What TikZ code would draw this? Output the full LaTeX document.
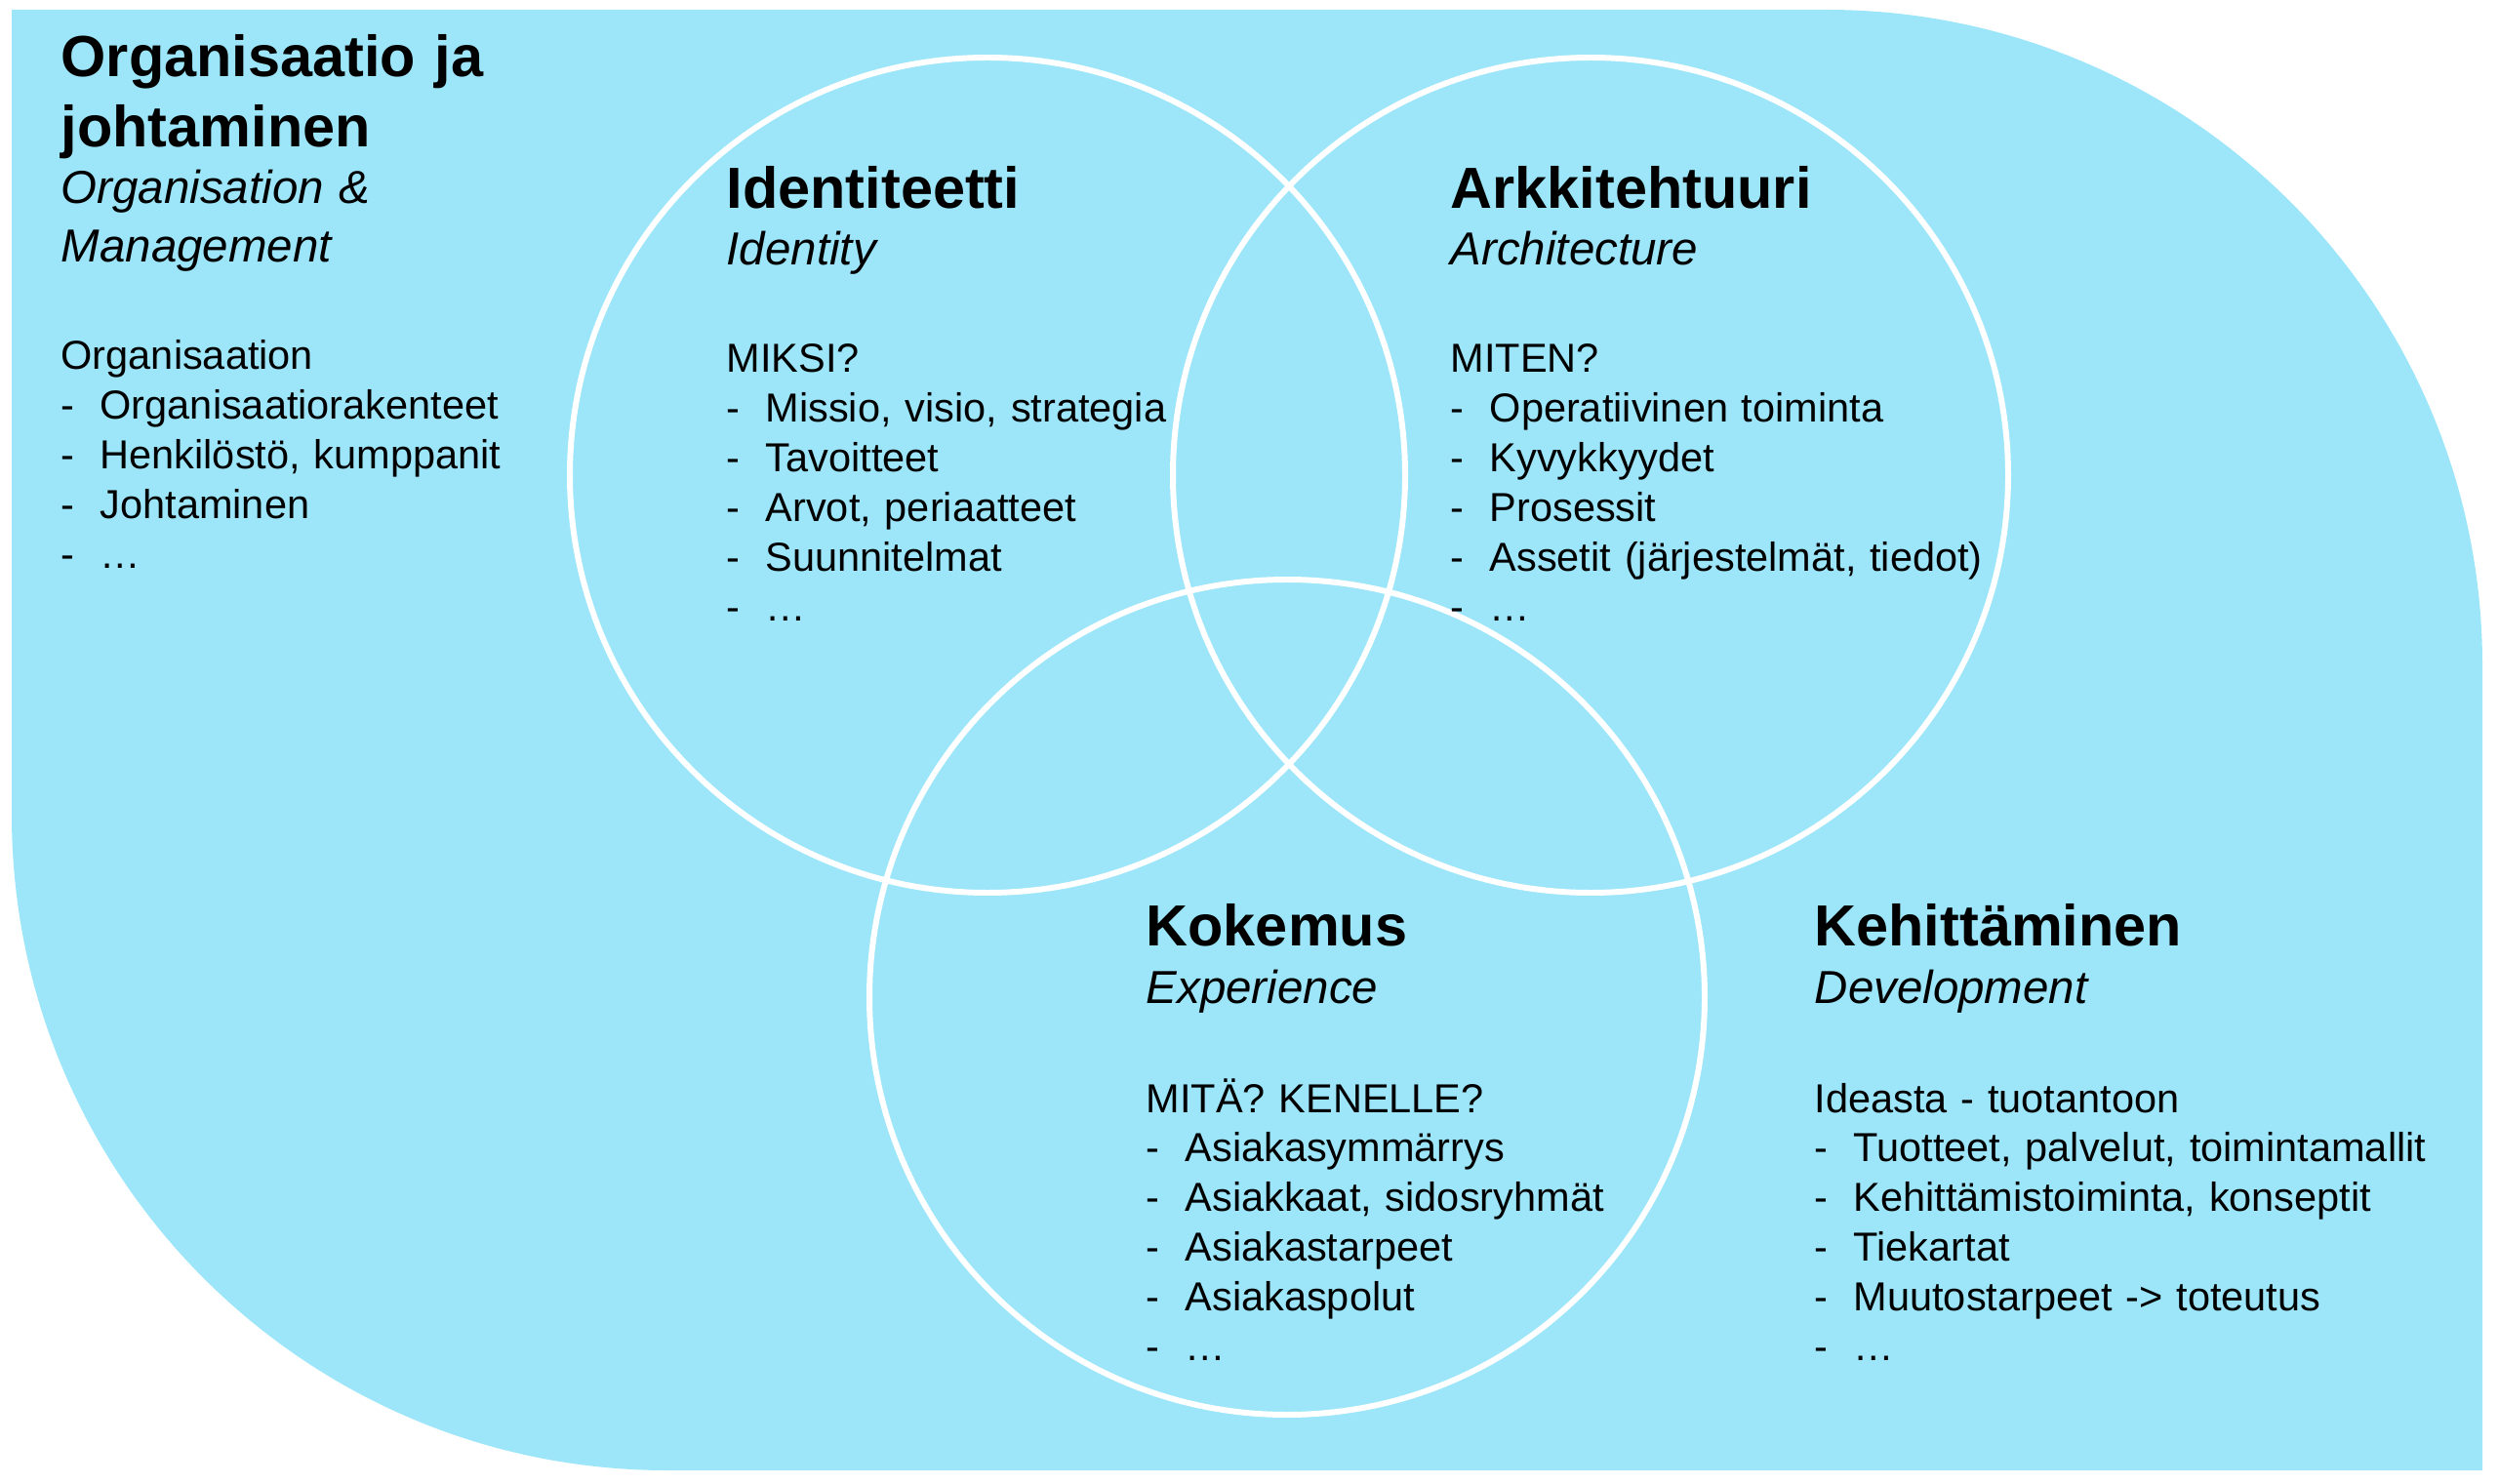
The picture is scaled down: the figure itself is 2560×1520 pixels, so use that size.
\documentclass[tikz,border=0pt]{standalone}
\usepackage{fontspec}
\setmainfont{Liberation Sans}
\usepackage{tikz}
\usetikzlibrary{calc}
\definecolor{VennBlue}{HTML}{9DE6FA}
\newcommand{\dashitem}[1]{\makebox[0.4cm][l]{-}#1}

\begin{document}
\begin{tikzpicture}[x=0.01cm,y=0.01cm,
    title/.style={anchor=base west,inner sep=0pt,text width=8cm,align=left,font=\fontsize{16.9}{20.2}\selectfont\bfseries},
    subtitle/.style={anchor=base west,inner sep=0pt,text width=8cm,align=left,font=\fontsize{13.5}{16.8}\selectfont\itshape},
    list/.style={anchor=base west,inner sep=0pt,text width=8cm,align=left,font=\fontsize{11.8}{14.5}\selectfont}]
    \useasboundingbox (0,0) rectangle (2560,1520);
    \fill[VennBlue] (12,1510) -- (1872,1510) arc[start angle=90,end angle=0,radius=672]
        -- (2544,13) -- (684,13) arc[start angle=270,end angle=180,radius=672] -- cycle;

    \coordinate (I) at (1012,1033);
    \coordinate (A) at (1630,1033);
    \coordinate (E) at (1319,498);
    \draw[white,line width=1.7pt] (I) circle[radius=428] (A) circle[radius=428] (E) circle[radius=428];

    % Organisaatio
    \node[title] (orgtitle) at (62,1441) {Organisaatio ja\\johtaminen};
    \node[subtitle] (orgsub) at (62,1311) {Organisation \&\\Management};
    \node[list] (orglist) at (62,1141) {Organisaation\\\dashitem{Organisaatiorakenteet}\\\dashitem{Henkilöstö, kumppanit}\\\dashitem{Johtaminen}\\\dashitem{…}};

    % Identiteetti
    \node[title] (idttitle) at (744,1306) {Identiteetti};
    \node[subtitle] (idtsub) at (744,1248) {Identity};
    \node[list] (idtlist) at (744,1138) {MIKSI?\\\dashitem{Missio, visio, strategia}\\\dashitem{Tavoitteet}\\\dashitem{Arvot, periaatteet}\\\dashitem{Suunnitelmat}\\\dashitem{…}};

    % Arkkitehtuuri
    \node[title] (arktitle) at (1486,1306) {Arkkitehtuuri};
    \node[subtitle] (arksub) at (1486,1248) {Architecture};
    \node[list] (arklist) at (1486,1138) {MITEN?\\\dashitem{Operatiivinen toiminta}\\\dashitem{Kyvykkyydet}\\\dashitem{Prosessit}\\\dashitem{Assetit (järjestelmät, tiedot)}\\\dashitem{…}};

    % Kokemus
    \node[title] (koktitle) at (1174,551) {Kokemus};
    \node[subtitle] (koksub) at (1174,492) {Experience};
    \node[list] (koklist) at (1174,380) {MITÄ? KENELLE?\\\dashitem{Asiakasymmärrys}\\\dashitem{Asiakkaat, sidosryhmät}\\\dashitem{Asiakastarpeet}\\\dashitem{Asiakaspolut}\\\dashitem{…}};

    % Kehittaminen
    \node[title] (kehtitle) at (1859,551) {Kehittäminen};
    \node[subtitle] (kehsub) at (1859,492) {Development};
    \node[list] (kehlist) at (1859,380) {Ideasta - tuotantoon\\\dashitem{Tuotteet, palvelut, toimintamallit}\\\dashitem{Kehittämistoiminta, konseptit}\\\dashitem{Tiekartat}\\\dashitem{Muutostarpeet -> toteutus}\\\dashitem{…}};
\end{tikzpicture}
\end{document}
